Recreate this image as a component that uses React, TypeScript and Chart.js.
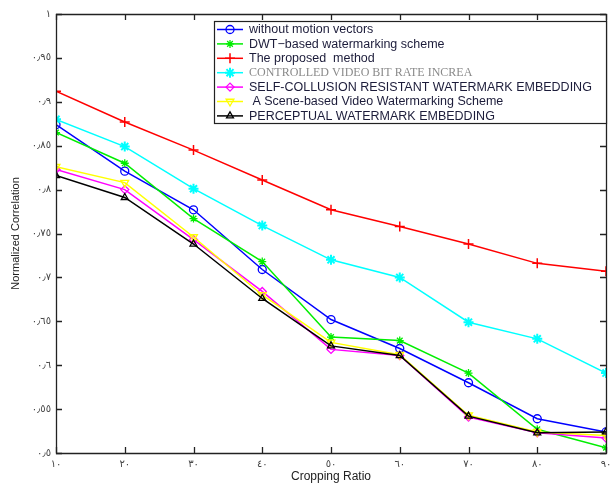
import React, { useEffect, useRef } from "react";
import { Chart, registerables } from "chart.js";
import { drawPoint } from "chart.js/helpers";

Chart.register(...registerables);

const croppingRatio = [10, 20, 30, 40, 50, 60, 70, 80, 90];

const seriesNames = [
  "without motion vectors",
  "DWT\u2212based watermarking scheme",
  "The proposed  method",
  "CONTROLLED VIDEO BIT RATE INCREA",
  "SELF-COLLUSION RESISTANT WATERMARK EMBEDDING",
  " A Scene-based Video Watermarking Scheme",
  "PERCEPTUAL WATERMARK EMBEDDING",
];

const withoutMotionVectors = [0.874, 0.821, 0.777, 0.709, 0.652, 0.619, 0.580, 0.539, 0.524];
const dwtBased = [0.865, 0.830, 0.767, 0.718, 0.632, 0.628, 0.591, 0.527, 0.506];
const proposedMethod = [0.912, 0.877, 0.845, 0.811, 0.777, 0.758, 0.738, 0.716, 0.707];
const controlledBitRate = [0.880, 0.849, 0.801, 0.759, 0.720, 0.700, 0.649, 0.630, 0.591];
const selfCollusion = [0.823, 0.800, 0.743, 0.684, 0.618, 0.611, 0.541, 0.523, 0.517];
const sceneBased = [0.826, 0.808, 0.746, 0.680, 0.626, 0.612, 0.543, 0.524, 0.520];
const perceptual = [0.816, 0.791, 0.738, 0.676, 0.622, 0.611, 0.542, 0.523, 0.524];

const seriesValues = [
  withoutMotionVectors,
  dwtBased,
  proposedMethod,
  controlledBitRate,
  selfCollusion,
  sceneBased,
  perceptual,
];

const seriesColors = ["#0000ff", "#00ee00", "#ff0000", "#00ffff", "#ff00ff", "#ffff00", "#000000"];
const seriesMarkers = ["circle", "star", "cross", "star", "rectRot", "triangle", "triangle"];
const markerRotation = [0, 0, 0, 0, 0, 180, 0];
const markerRadius = [4, 4, 5, 5, 4, 4.5, 4];
const markerBorder = [1.3, 1.3, 1.5, 2, 1.3, 1.3, 1.3];

const yMin = 0.5;
const yMax = 1;
const yStep = 0.05;
const xMin = 10;
const xMax = 90;
const xStep = 10;

const arabicDigits = ["\u0660", "\u0661", "\u0662", "\u0663", "\u0664", "\u0665", "\u0666", "\u0667", "\u0668", "\u0669"];
function toArabic(v: number): string {
  const s = String(Math.round(v * 100) / 100);
  return s
    .split("")
    .map((c) => (c === "." ? "\u066B" : c >= "0" && c <= "9" ? arabicDigits[+c] : c))
    .join("");
}

const framePlugin = {
  id: "matlabFrame",
  afterDraw(chart: any) {
    const { ctx, chartArea } = chart;
    const { left, right, top, bottom } = chartArea;
    const xs = chart.scales.x;
    const ys = chart.scales.y;
    const tl = 6;
    ctx.save();
    ctx.strokeStyle = "#222";
    ctx.lineWidth = 1.3;
    ctx.beginPath();
    ctx.rect(Math.round(left) + 0.5, Math.round(top) + 0.5, Math.round(right - left), Math.round(bottom - top));
    ctx.stroke();
    ctx.beginPath();
    ys.ticks.forEach((t: any) => {
      const y = Math.round(ys.getPixelForValue(t.value)) + 0.5;
      ctx.moveTo(left, y);
      ctx.lineTo(left + tl, y);
      ctx.moveTo(right, y);
      ctx.lineTo(right - tl, y);
    });
    xs.ticks.forEach((t: any) => {
      const x = Math.round(xs.getPixelForValue(t.value)) + 0.5;
      ctx.moveTo(x, bottom);
      ctx.lineTo(x, bottom - tl);
      ctx.moveTo(x, top);
      ctx.lineTo(x, top + tl);
    });
    ctx.stroke();

    // legend box
    const bx = 214, by = 21, bw = 392, bh = 102;
    ctx.fillStyle = "#fff";
    ctx.fillRect(bx, by, bw, bh);
    ctx.strokeStyle = "#222";
    ctx.lineWidth = 1.2;
    ctx.strokeRect(bx + 0.5, by + 0.5, bw, bh);
    seriesNames.forEach((name, i) => {
      const cy = 29.5 + i * 14.4;
      const col = seriesColors[i];
      ctx.strokeStyle = col;
      ctx.lineWidth = 1.5;
      ctx.beginPath();
      ctx.moveTo(217, cy);
      ctx.lineTo(243, cy);
      ctx.stroke();
      ctx.strokeStyle = col;
      ctx.fillStyle = "rgba(0,0,0,0)";
      ctx.lineWidth = markerBorder[i];
      drawPoint(ctx, { pointStyle: seriesMarkers[i], radius: markerRadius[i], rotation: markerRotation[i], borderWidth: markerBorder[i] } as any, 230, cy);
      ctx.textBaseline = "middle";
      ctx.textAlign = "left";
      if (i === 3) {
        ctx.fillStyle = "#8a8a8a";
        ctx.font = "12px 'Liberation Serif'";
      } else {
        ctx.fillStyle = "#1c1c3a";
        ctx.font = "12.5px 'Liberation Sans'";
      }
      ctx.fillText(name, 249, cy + 0.5);
    });
    ctx.restore();
  },
};

export default function App() {
  const ref = useRef<HTMLCanvasElement | null>(null);
  useEffect(() => {
    document.body.style.margin = "0";
    const canvas = ref.current;
    if (!canvas) return;
    const datasets = seriesNames.map((name, i) => ({
      label: name,
      data: croppingRatio.map((x, j) => ({ x, y: seriesValues[i][j] })),
      borderColor: seriesColors[i],
      backgroundColor: seriesColors[i],
      borderWidth: 1.5,
      pointStyle: seriesMarkers[i],
      pointRadius: markerRadius[i],
      pointRotation: markerRotation[i],
      pointBorderWidth: markerBorder[i],
      pointBorderColor: seriesColors[i],
      pointBackgroundColor: "rgba(0,0,0,0)",
      tension: 0,
      order: seriesNames.length - i,
    }));
    const chart = new Chart(canvas, {
      type: "line",
      data: { datasets },
      plugins: [framePlugin],
      options: {
        animation: false,
        responsive: false,
        maintainAspectRatio: false,
        layout: { padding: { left: 0, right: 3, top: 14, bottom: 0 } },
        plugins: { legend: { display: false }, tooltip: { enabled: false } },
        scales: {
          x: {
            type: "linear",
            min: xMin,
            max: xMax,
            grid: { display: false, drawTicks: false },
            border: { display: false },
            ticks: {
              stepSize: xStep,
              padding: 5,
              maxRotation: 0,
              color: "#444",
              font: { family: "DejaVu Sans", size: 10 },
              callback: (v: any) => toArabic(Number(v)),
            },
            title: {
              display: true,
              text: "Cropping Ratio",
              color: "#222",
              font: { family: "Liberation Sans", size: 12 },
              padding: { top: 0, bottom: 1 },
            },
            afterFit: (s: any) => {
              s.height = 32;
              s.paddingLeft = 0;
              s.paddingRight = 0;
            },
          },
          y: {
            min: yMin,
            max: yMax,
            grid: { display: false, drawTicks: false },
            border: { display: false },
            ticks: {
              stepSize: yStep,
              padding: 5,
              color: "#444",
              font: { family: "DejaVu Sans", size: 10 },
              callback: (v: any) => toArabic(Number(v)),
            },
            title: {
              display: true,
              text: "Normalized Correlation",
              color: "#222",
              font: { family: "Liberation Sans", size: 11 },
              padding: { top: 9, bottom: 0 },
            },
            afterFit: (s: any) => {
              s.width = 56;
              s.paddingTop = 0;
              s.paddingBottom = 0;
            },
          },
        },
      },
    });
    return () => chart.destroy();
  }, []);
  return (
    <div style={{ width: 613, height: 485, background: "#fff" }}>
      <canvas ref={ref} width={613} height={485} style={{ width: 613, height: 485, display: "block" }} />
    </div>
  );
}
